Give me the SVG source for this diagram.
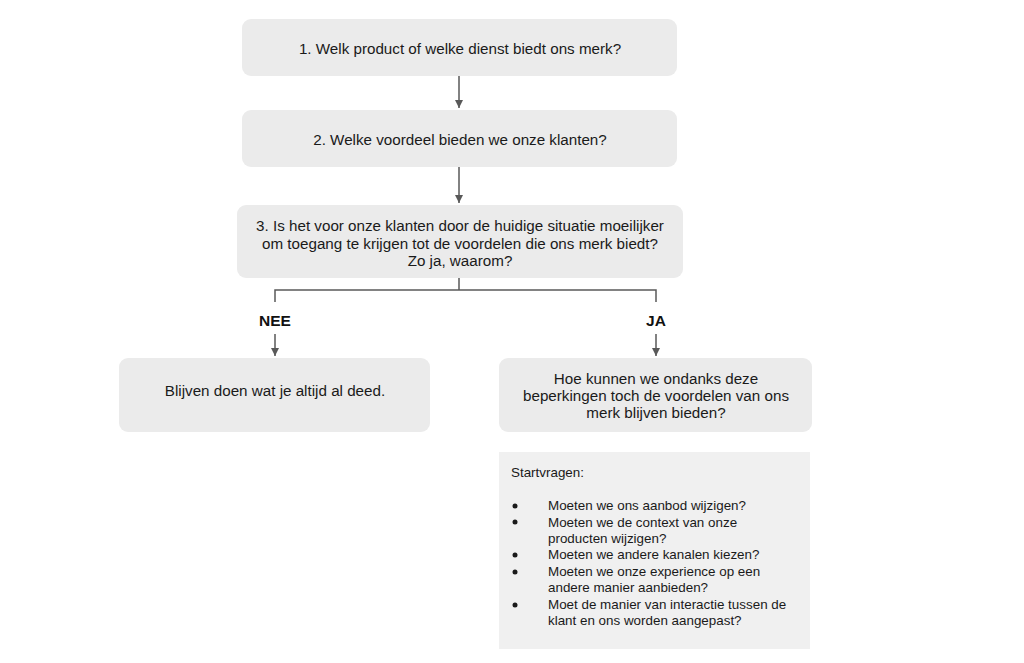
<svg xmlns="http://www.w3.org/2000/svg" width="1024" height="663" viewBox="0 0 1024 663">
<defs>
<style>
.box{fill:#ebebeb;}
.note{fill:#f0f0f0;}
.t{font-family:"Liberation Sans",Arial,sans-serif;font-size:15.2px;fill:#1a1a1a;text-anchor:middle;}
.s{font-family:"Liberation Sans",Arial,sans-serif;font-size:13.4px;fill:#1a1a1a;}
.b{font-family:"Liberation Sans",Arial,sans-serif;font-size:15.5px;font-weight:bold;fill:#111;text-anchor:middle;}
.c{stroke:#595959;stroke-width:1.5;fill:none;}
</style>
<marker id="ah" viewBox="0 0 10 10" refX="10" refY="5" markerWidth="8" markerHeight="8" markerUnits="userSpaceOnUse" orient="auto">
<path d="M0,0 L10,5 L0,10 z" fill="#595959"/>
</marker>
</defs>
<rect width="1024" height="663" fill="#ffffff"/>
<g id="connectors">
<line class="c" x1="459" y1="76" x2="459" y2="108" marker-end="url(#ah)"/>
<line class="c" x1="459" y1="167" x2="459" y2="203" marker-end="url(#ah)"/>
<path class="c" d="M459,278 V290 M275,302 V290 H656 V302"/>
<line class="c" x1="275" y1="334" x2="275" y2="356" marker-end="url(#ah)"/>
<line class="c" x1="656" y1="334" x2="656" y2="356" marker-end="url(#ah)"/>
<text class="b" x="275" y="326">NEE</text>
<text class="b" x="656" y="326">JA</text>
</g>
<g id="q1">
<rect class="box" x="242" y="19" width="435" height="57" rx="9"/>
<text class="t" x="460" y="54">1. Welk product of welke dienst biedt ons merk?</text>
</g>
<g id="q2">
<rect class="box" x="242" y="110" width="435" height="57" rx="9"/>
<text class="t" x="460" y="145">2. Welke voordeel bieden we onze klanten?</text>
</g>
<g id="q3">
<rect class="box" x="237" y="205" width="446" height="73" rx="9"/>
<text class="t" x="460" y="231">3. Is het voor onze klanten door de huidige situatie moeilijker</text>
<text class="t" x="460" y="249">om toegang te krijgen tot de voordelen die ons merk biedt?</text>
<text class="t" x="460" y="266">Zo ja, waarom?</text>
</g>
<g id="nee">
<rect class="box" x="119" y="358" width="311" height="74" rx="9"/>
<text class="t" x="275" y="396">Blijven doen wat je altijd al deed.</text>
</g>
<g id="ja">
<rect class="box" x="499" y="358" width="313" height="74" rx="9"/>
<text class="t" x="656" y="384">Hoe kunnen we ondanks deze</text>
<text class="t" x="656" y="401">beperkingen toch de voordelen van ons</text>
<text class="t" x="656" y="418">merk blijven bieden?</text>
</g>
<g id="startvragen">
<rect class="note" x="499" y="452" width="311" height="197"/>
<text class="s" x="511" y="477">Startvragen:</text>
<g fill="#1a1a1a">
<circle cx="515" cy="506" r="2.5"/>
<circle cx="515" cy="522" r="2.5"/>
<circle cx="515" cy="555" r="2.5"/>
<circle cx="515" cy="572" r="2.5"/>
<circle cx="515" cy="605" r="2.5"/>
</g>
<text class="s" x="548" y="510">Moeten we ons aanbod wijzigen?</text>
<text class="s" x="548" y="527">Moeten we de context van onze</text>
<text class="s" x="548" y="543">producten wijzigen?</text>
<text class="s" x="548" y="559">Moeten we andere kanalen kiezen?</text>
<text class="s" x="548" y="576">Moeten we onze experience op een</text>
<text class="s" x="548" y="592">andere manier aanbieden?</text>
<text class="s" x="548" y="609">Moet de manier van interactie tussen de</text>
<text class="s" x="548" y="625">klant en ons worden aangepast?</text>
</g>
</svg>
